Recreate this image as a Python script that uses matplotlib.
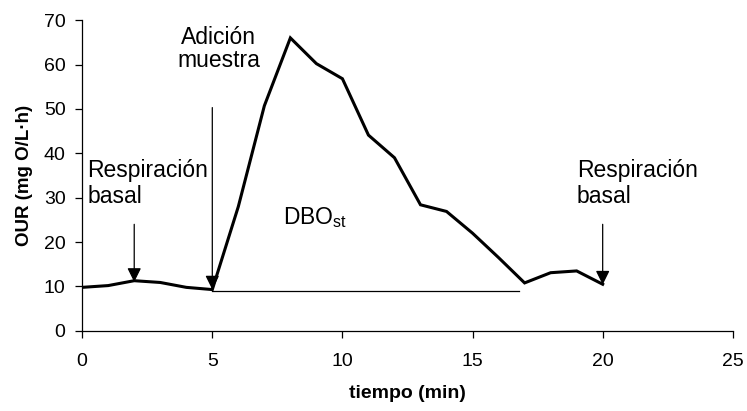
import matplotlib
matplotlib.use("Agg")
from matplotlib import pyplot as plt

# data
tiempo = [0, 1, 2, 3, 4, 5, 6, 7, 8, 9, 10, 11, 12, 13, 14, 15, 16, 17, 18, 19, 20]
our = [9.8, 10.2, 11.3, 10.9, 9.8, 9.3, 28, 50.7, 66, 60.2, 56.8, 44.1, 39, 28.4, 26.9, 22, 16.5, 10.8, 13.1, 13.5, 10.5]
base_x = [5, 16.8]
base_y = [9.0, 9.0]
arrow_x = [2, 5, 20]
arrow_from = [24, 50.3, 24]
arrow_to = [11.0, 9.3, 10.4]

plt.rcParams['font.family'] = ['Liberation Sans', 'DejaVu Sans']

fig = plt.figure(figsize=(7.47, 4.11), dpi=100)
ax = fig.add_axes([0.11, 0.195, 0.871, 0.756])

ax.plot(tiempo, our, color="black", lw=2.2, solid_joinstyle="miter")
ax.plot(base_x, base_y, color="black", lw=0.9)

for xa, y0, y1 in zip(arrow_x, arrow_from, arrow_to):
    ax.annotate("", xy=(xa, y1), xytext=(xa, y0),
                arrowprops=dict(arrowstyle="-|>,head_length=0.85,head_width=0.42",
                                color="black", lw=0.9, shrinkA=0, shrinkB=0))

ax.text(0.2, 33.2, "Respiración\nbasal", fontsize=16.5, ha="left", va="center", linespacing=1.12)
ax.text(19.0, 33.2, "Respiración\nbasal", fontsize=16.5, ha="left", va="center", linespacing=1.12)
ax.text(5.25, 63.5, "Adición\nmuestra", fontsize=16.5, ha="center", va="center", linespacing=1.0)
ax.text(7.7, 25.5, r"DBO$_{\mathregular{st}}$", fontsize=16.5, ha="left", va="center")

ax.set_xlim(0, 25)
ax.set_ylim(0, 70)
ax.set_xticks([0, 5, 10, 15, 20, 25])
ax.set_yticks(range(0, 71, 10))
ax.tick_params(labelsize=14, direction="out", length=5, width=0.9)
ax.tick_params(axis="x", pad=11)
ax.tick_params(axis="y", pad=7)
ax.spines["top"].set_visible(False)
ax.spines["right"].set_visible(False)
ax.spines["left"].set_linewidth(0.9)
ax.spines["bottom"].set_linewidth(0.9)

ax.set_xlabel("tiempo (min)", fontsize=14, fontweight="bold", labelpad=11)
ax.set_ylabel("OUR (mg O/L·h)", fontsize=13.5, fontweight="bold", labelpad=8)

fig.savefig("out.png", dpi=100)
